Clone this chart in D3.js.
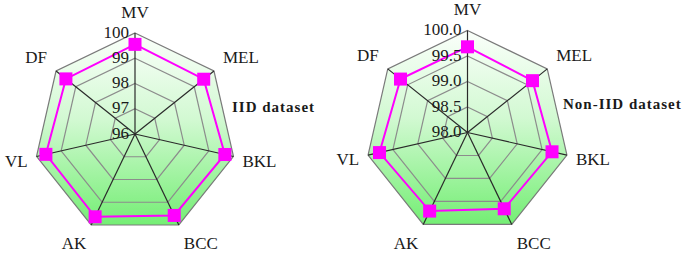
<!DOCTYPE html>
<html>
<head>
<meta charset="utf-8">
<script src="https://cdn.jsdelivr.net/npm/d3@7"></script>
<style>
  body { margin: 0; background: #fff; }
  svg text { font-family: "Liberation Serif", "Times New Roman", serif; fill: #1a1a1a; }
</style>
</head>
<body>
<div id="chart"></div>
<script>
// categories (clockwise from top)
const axes = ["MV", "MEL", "BKL", "BCC", "AK", "VL", "DF"];

// accuracy values (%)
const iidValues = [99.55, 99.48, 99.65, 99.58, 99.64, 99.62, 99.50];
const nonIidValues = [99.68, 99.63, 99.70, 99.66, 99.71, 99.77, 99.68];

// ring ticks
const iidTicks = [96, 97, 98, 99, 100];
const nonIidTicks = [98.0, 98.5, 99.0, 99.5, 100.0];

const width = 685, height = 253;

const svg = d3.select("#chart").append("svg")
    .attr("width", width)
    .attr("height", height);

// green background gradient
const grad = svg.append("defs").append("linearGradient")
    .attr("id", "greenFill")
    .attr("x1", 0).attr("y1", 0).attr("x2", 0).attr("y2", 1);
grad.append("stop").attr("offset", "0%").attr("stop-color", "#fbfffb");
grad.append("stop").attr("offset", "45%").attr("stop-color", "#d2f9d2");
grad.append("stop").attr("offset", "100%").attr("stop-color", "#74ee74");

function drawRadar(cx, cy, R, values, ticks, fmt, title, titleX, titleY) {
    let g = svg.append("g").attr("transform", `translate(${cx}, ${cy})`);

    let r = d3.scaleLinear()
        .domain([ticks[0], ticks[ticks.length - 1]])
        .range([0, R]);
    let angle = d3.scaleLinear()
        .domain([0, axes.length])
        .range([0, 2 * Math.PI]);

    let ring = d3.lineRadial()
        .angle((d, i) => angle(i))
        .radius(d => d)
        .curve(d3.curveLinearClosed);

    // filled outer polygon
    g.append("path")
        .attr("d", ring(axes.map(() => R)))
        .attr("fill", "url(#greenFill)")
        .attr("stroke", "none");

    // grid rings
    g.selectAll(".ring")
        .data(ticks.slice(1))
        .enter().append("path")
        .attr("class", "ring")
        .attr("d", t => ring(axes.map(() => r(t))))
        .attr("fill", "none")
        .attr("stroke", (t, i) => i === ticks.length - 2 ? "#7a7a7a" : "#8c8c8c")
        .attr("stroke-width", 1.2);

    // spokes
    g.selectAll(".spoke")
        .data(axes)
        .enter().append("line")
        .attr("class", "spoke")
        .attr("x1", 0).attr("y1", 0)
        .attr("x2", (d, i) => R * Math.sin(angle(i)))
        .attr("y2", (d, i) => -R * Math.cos(angle(i)))
        .attr("stroke", "#2a2a2a")
        .attr("stroke-width", 1.2);

    // series line
    g.append("path")
        .attr("d", ring(values.map(v => r(v))))
        .attr("fill", "none")
        .attr("stroke", "#ff00ff")
        .attr("stroke-width", 2);

    // markers
    let ms = 13;
    g.selectAll(".marker")
        .data(values)
        .enter().append("rect")
        .attr("class", "marker")
        .attr("x", (v, i) => r(v) * Math.sin(angle(i)) - ms / 2)
        .attr("y", (v, i) => -r(v) * Math.cos(angle(i)) - ms / 2)
        .attr("width", ms)
        .attr("height", ms)
        .attr("fill", "#ff00ff");

    // tick labels along the top axis
    g.selectAll(".tick")
        .data(ticks)
        .enter().append("text")
        .attr("class", "tick")
        .attr("x", -6)
        .attr("y", t => -r(t) - 1)
        .attr("text-anchor", "end")
        .attr("dominant-baseline", "central")
        .attr("font-size", 17)
        .text(fmt);

    // category labels, anchored away from the vertex
    let ly = R + 21;
    let side = i => {
        let s = Math.sin(angle(i));
        return Math.abs(s) < 0.1 ? 0 : Math.sign(s);
    };
    let gap = i => Math.abs(Math.sin(angle(i))) < 0.5 ? 5 : 9;
    g.selectAll(".cat")
        .data(axes)
        .enter().append("text")
        .attr("class", "cat")
        .attr("x", (d, i) => R * Math.sin(angle(i)) + side(i) * gap(i))
        .attr("y", (d, i) => -ly * Math.cos(angle(i)))
        .attr("text-anchor", (d, i) => side(i) > 0 ? "start" : side(i) < 0 ? "end" : "middle")
        .attr("dominant-baseline", "central")
        .attr("font-size", 17)
        .text(d => d);

    svg.append("text")
        .attr("x", titleX)
        .attr("y", titleY)
        .attr("font-size", 15)
        .attr("font-weight", "bold")
        .attr("letter-spacing", 1)
        .text(title);
}

drawRadar(135, 134, 101, iidValues, iidTicks, d => d3.format("d")(d), "IID dataset", 232, 112);
drawRadar(467.5, 132.5, 102, nonIidValues, nonIidTicks, d => d3.format(".1f")(d), "Non-IID dataset", 563, 109);
</script>
</body>
</html>
